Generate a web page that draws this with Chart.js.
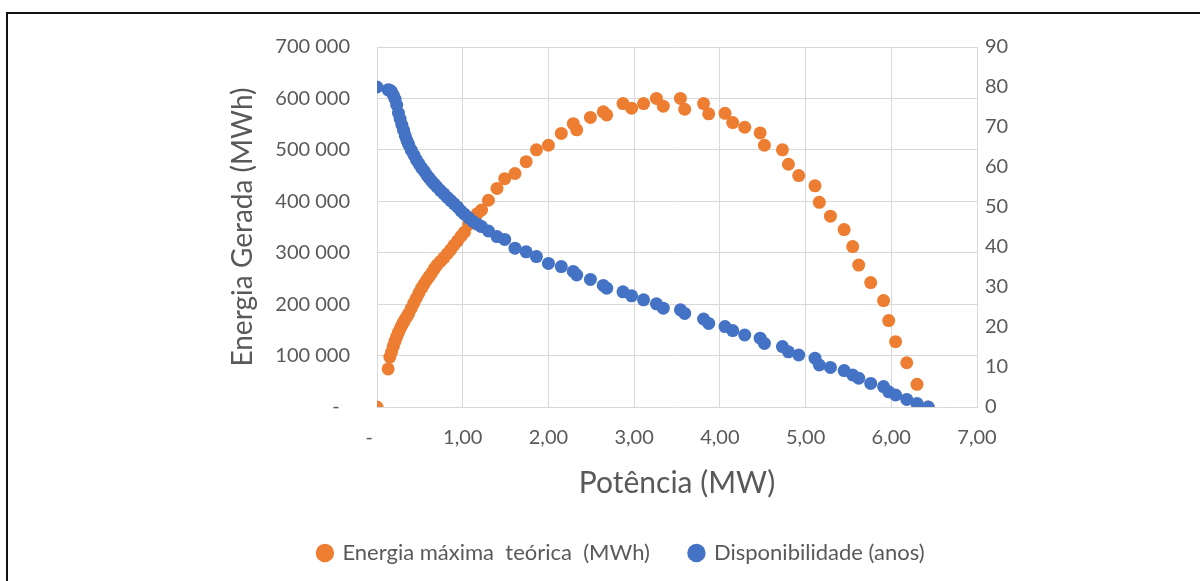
<!DOCTYPE html>
<html>
<head>
<meta charset="utf-8">
<script src="https://cdn.jsdelivr.net/npm/chart.js@4.4.1/dist/chart.umd.min.js"></script>
<style>
  html, body { margin: 0; padding: 0; background: #fff; overflow: hidden; }
  #wrap { position: relative; width: 1200px; height: 581px; }
  #frame { position: absolute; left: 6px; top: 12px; width: 1300px; height: 700px; border-left: 2px solid #111; border-top: 2px solid #111; box-sizing: border-box; pointer-events: none; }
  canvas { position: absolute; left: 0; top: 0; }
</style>
</head>
<body>
<div id="wrap">
  <canvas id="c" width="1200" height="581"></canvas>
  <div id="frame"></div>
</div>
<script>
// Potência (MW) - shared x values
const potencia = [0, 0.13, 0.15, 0.17, 0.19, 0.21, 0.23, 0.25, 0.27, 0.29, 0.31, 0.33, 0.35, 0.37, 0.40, 0.43, 0.46, 0.49, 0.52, 0.55, 0.58, 0.61, 0.64, 0.67, 0.70, 0.74, 0.78, 0.82, 0.86, 0.90, 0.94, 0.98, 1.02, 1.07, 1.12, 1.17,
  1.22, 1.30, 1.40, 1.49, 1.61, 1.74, 1.86, 2.00, 2.15, 2.29, 2.33, 2.49, 2.64, 2.68, 2.87, 2.97, 3.11, 3.26, 3.34, 3.54, 3.59, 3.81, 3.87, 4.06, 4.15, 4.29, 4.47, 4.52, 4.73, 4.80, 4.92, 5.11, 5.16, 5.29, 5.45, 5.55, 5.62, 5.76, 5.91, 5.97, 6.05, 6.18, 6.30, 6.43];
// Energia máxima teórica (MWh)
const energia = [0, 74000, 97000, 107000, 118000, 128000, 137000, 145000, 152000, 159000, 165000, 171000, 176000, 182000, 192000, 202000, 212000, 222000, 231000, 239000, 247000, 254000, 261000, 269000, 276000, 283000, 290000, 298000, 306000, 315000, 323000, 332000, 340000, 355000, 368000, 376000,
  383000, 402000, 425000, 444000, 454000, 477000, 500000, 509000, 532000, 551000, 539000, 563000, 574000, 568000, 590000, 581000, 590000, 600000, 585000, 600000, 579000, 590000, 570000, 571000, 553000, 544000, 533000, 509000, 500000, 472000, 450000, 430000, 398000, 371000, 345000, 312000, 276000, 242000, 207000, 168000, 127000, 86000, 44000, 0];
// Disponibilidade (anos)
const disponibilidade = [80, 79.3, 79.2, 78.8, 78, 77, 75.5, 73.5, 72, 70.5, 69.2, 67.8, 66.6, 65.6, 64.2, 63, 61.8, 60.8, 59.8, 59, 58, 57.2, 56.4, 55.7, 55, 54.1, 53.3, 52.4, 51.6, 50.8, 50, 49, 48.2, 47.3, 46.4, 45.7,
  45.1, 44, 42.6, 41.9, 39.7, 38.8, 37.6, 35.9, 35.1, 33.9, 33.0, 31.9, 30.4, 29.7, 28.8, 27.8, 26.8, 25.8, 24.7, 24.3, 23.4, 22.0, 20.9, 20.1, 19.1, 18.0, 17.2, 15.9, 15.1, 13.8, 13.0, 12.2, 10.5, 9.9, 9.1, 8.0, 7.2, 5.9, 5.1, 3.8, 3.0, 1.9, 0.9, 0];

const seriesNames = ['Energia máxima  teórica  (MWh)', 'Disponibilidade (anos)'];
const xTitle = 'Potência (MW)';
const yTitle = 'Energia Gerada (MWh)';

const FONT = 'Lato, "Open Sans", sans-serif';
const TXT = '#595959';
const GRID = '#d9d9d9';

const fmtX = v => v === 0 ? '-   ' : v.toFixed(2).replace('.', ',');
const fmtY = v => v === 0 ? '-  ' : String(v).replace(/\B(?=(\d{3})+(?!\d))/g, ' ');

new Chart(document.getElementById('c'), {
  type: 'scatter',
  data: {
    datasets: [
      {
        label: seriesNames[0],
        data: potencia.map((x, i) => ({ x: x, y: energia[i] })),
        yAxisID: 'y',
        backgroundColor: '#ED7D31',
        borderColor: '#ED7D31',
        pointRadius: 6.5,
        pointBorderWidth: 0,
        order: 1
      },
      {
        label: seriesNames[1],
        data: potencia.map((x, i) => ({ x: x, y: disponibilidade[i] })),
        yAxisID: 'y2',
        backgroundColor: '#4472C4',
        borderColor: '#4472C4',
        pointRadius: 6.5,
        pointBorderWidth: 0,
        order: 0
      }
    ]
  },
  options: {
    responsive: false,
    animation: false,
    events: [],
    layout: { padding: { left: 226, right: 183, top: 47, bottom: 9 } },
    plugins: {
      tooltip: { enabled: false },
      legend: {
        position: 'bottom',
        maxHeight: 70,
        labels: {
          usePointStyle: true,
          pointStyle: 'circle',
          boxWidth: 13,
          boxHeight: 13,
          padding: 40,
          color: TXT,
          font: { family: FONT, size: 22 },
          sort: (a, b) => a.datasetIndex - b.datasetIndex
        }
      }
    },
    scales: {
      x: {
        type: 'linear',
        min: 0, max: 7,
        ticks: { stepSize: 1, callback: fmtX, color: TXT, font: { family: FONT, size: 20 }, padding: 19, maxRotation: 0 },
        grid: { color: GRID, lineWidth: 1, drawTicks: false },
        border: { color: GRID },
        title: { display: true, text: xTitle, color: TXT, font: { family: FONT, size: 30 }, padding: { top: 0, bottom: 1 } },
        afterFit: s => { s.height = 95; }
      },
      y: {
        position: 'left',
        min: 0, max: 700000,
        ticks: { stepSize: 100000, callback: fmtY, color: TXT, font: { family: FONT, size: 20 }, padding: 27 },
        grid: { color: GRID, lineWidth: 1, drawTicks: false },
        border: { color: GRID },
        title: { display: true, text: yTitle, color: TXT, font: { family: FONT, size: 28 }, padding: { top: 0, bottom: 0 } },
        afterFit: s => { s.width = 151; }
      },
      y2: {
        position: 'right',
        min: 0, max: 90,
        ticks: { stepSize: 10, color: TXT, font: { family: FONT, size: 20 }, padding: 8 },
        grid: { display: false, drawTicks: false },
        border: { display: false },
        afterFit: s => { s.width = 40; }
      }
    }
  }
});
</script>
</body>
</html>
